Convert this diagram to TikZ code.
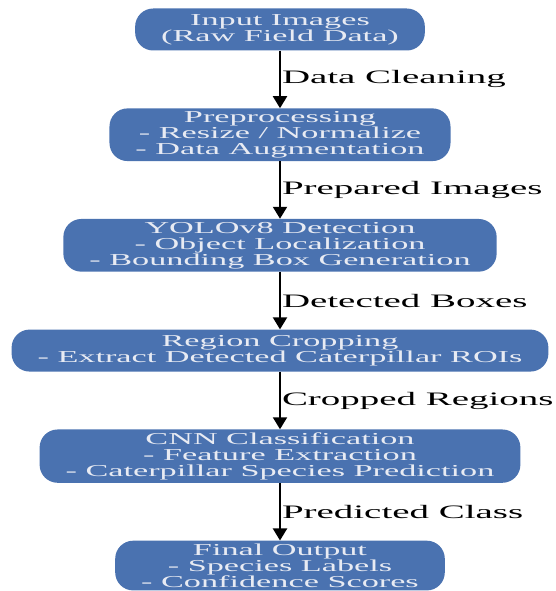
\documentclass[tikz,border=0pt]{standalone}
\usepackage{fontspec}
\usetikzlibrary{positioning,arrows.meta}
\newfontfamily\flowfont[FakeStretch=2.05]{Liberation Serif}
\definecolor{stepblue}{RGB}{74,114,176}
\definecolor{steptext}{RGB}{232,235,243}

\begin{document}
\begin{tikzpicture}[x=1pt,y=-1pt,
    stage/.style={fill=stepblue,text=steptext,rounded corners=18pt,align=center,
      inner xsep=26pt,inner ysep=3pt,minimum height=42pt,
      font=\flowfont\fontsize{16.7}{16}\selectfont},
    flow/.style={line width=2pt,-{Triangle[width=14pt,length=12pt]}},
    flowlabel/.style={anchor=west,inner sep=1pt,font=\flowfont\fontsize{19}{19}\selectfont},
    node distance=57.5pt]
    \useasboundingbox (0,0) rectangle (556,591);
    \node[stage] (input) at (280,29.5) {Input Images\\(Raw Field Data)};
    \node[stage,below=of input] (prep) {Preprocessing\\- Resize / Normalize\\- Data Augmentation};
    \node[stage,below=of prep] (yolo) {YOLOv8 Detection\\- Object Localization\\- Bounding Box Generation};
    \node[stage,below=of yolo] (crop) {Region Cropping\\- Extract Detected Caterpillar ROIs};
    \node[stage,below=of crop] (cnn) {CNN Classification\\- Feature Extraction\\- Caterpillar Species Prediction};
    \node[stage,below=of cnn] (output) {Final Output\\- Species Labels\\- Confidence Scores};
    \draw[flow] (input) -- node[flowlabel] {Data Cleaning} (prep);
    \draw[flow] (prep) -- node[flowlabel] {Prepared Images} (yolo);
    \draw[flow] (yolo) -- node[flowlabel] {Detected Boxes} (crop);
    \draw[flow] (crop) -- node[flowlabel] {Cropped Regions} (cnn);
    \draw[flow] (cnn) -- node[flowlabel] {Predicted Class} (output);
  \end{tikzpicture}
\end{document}
